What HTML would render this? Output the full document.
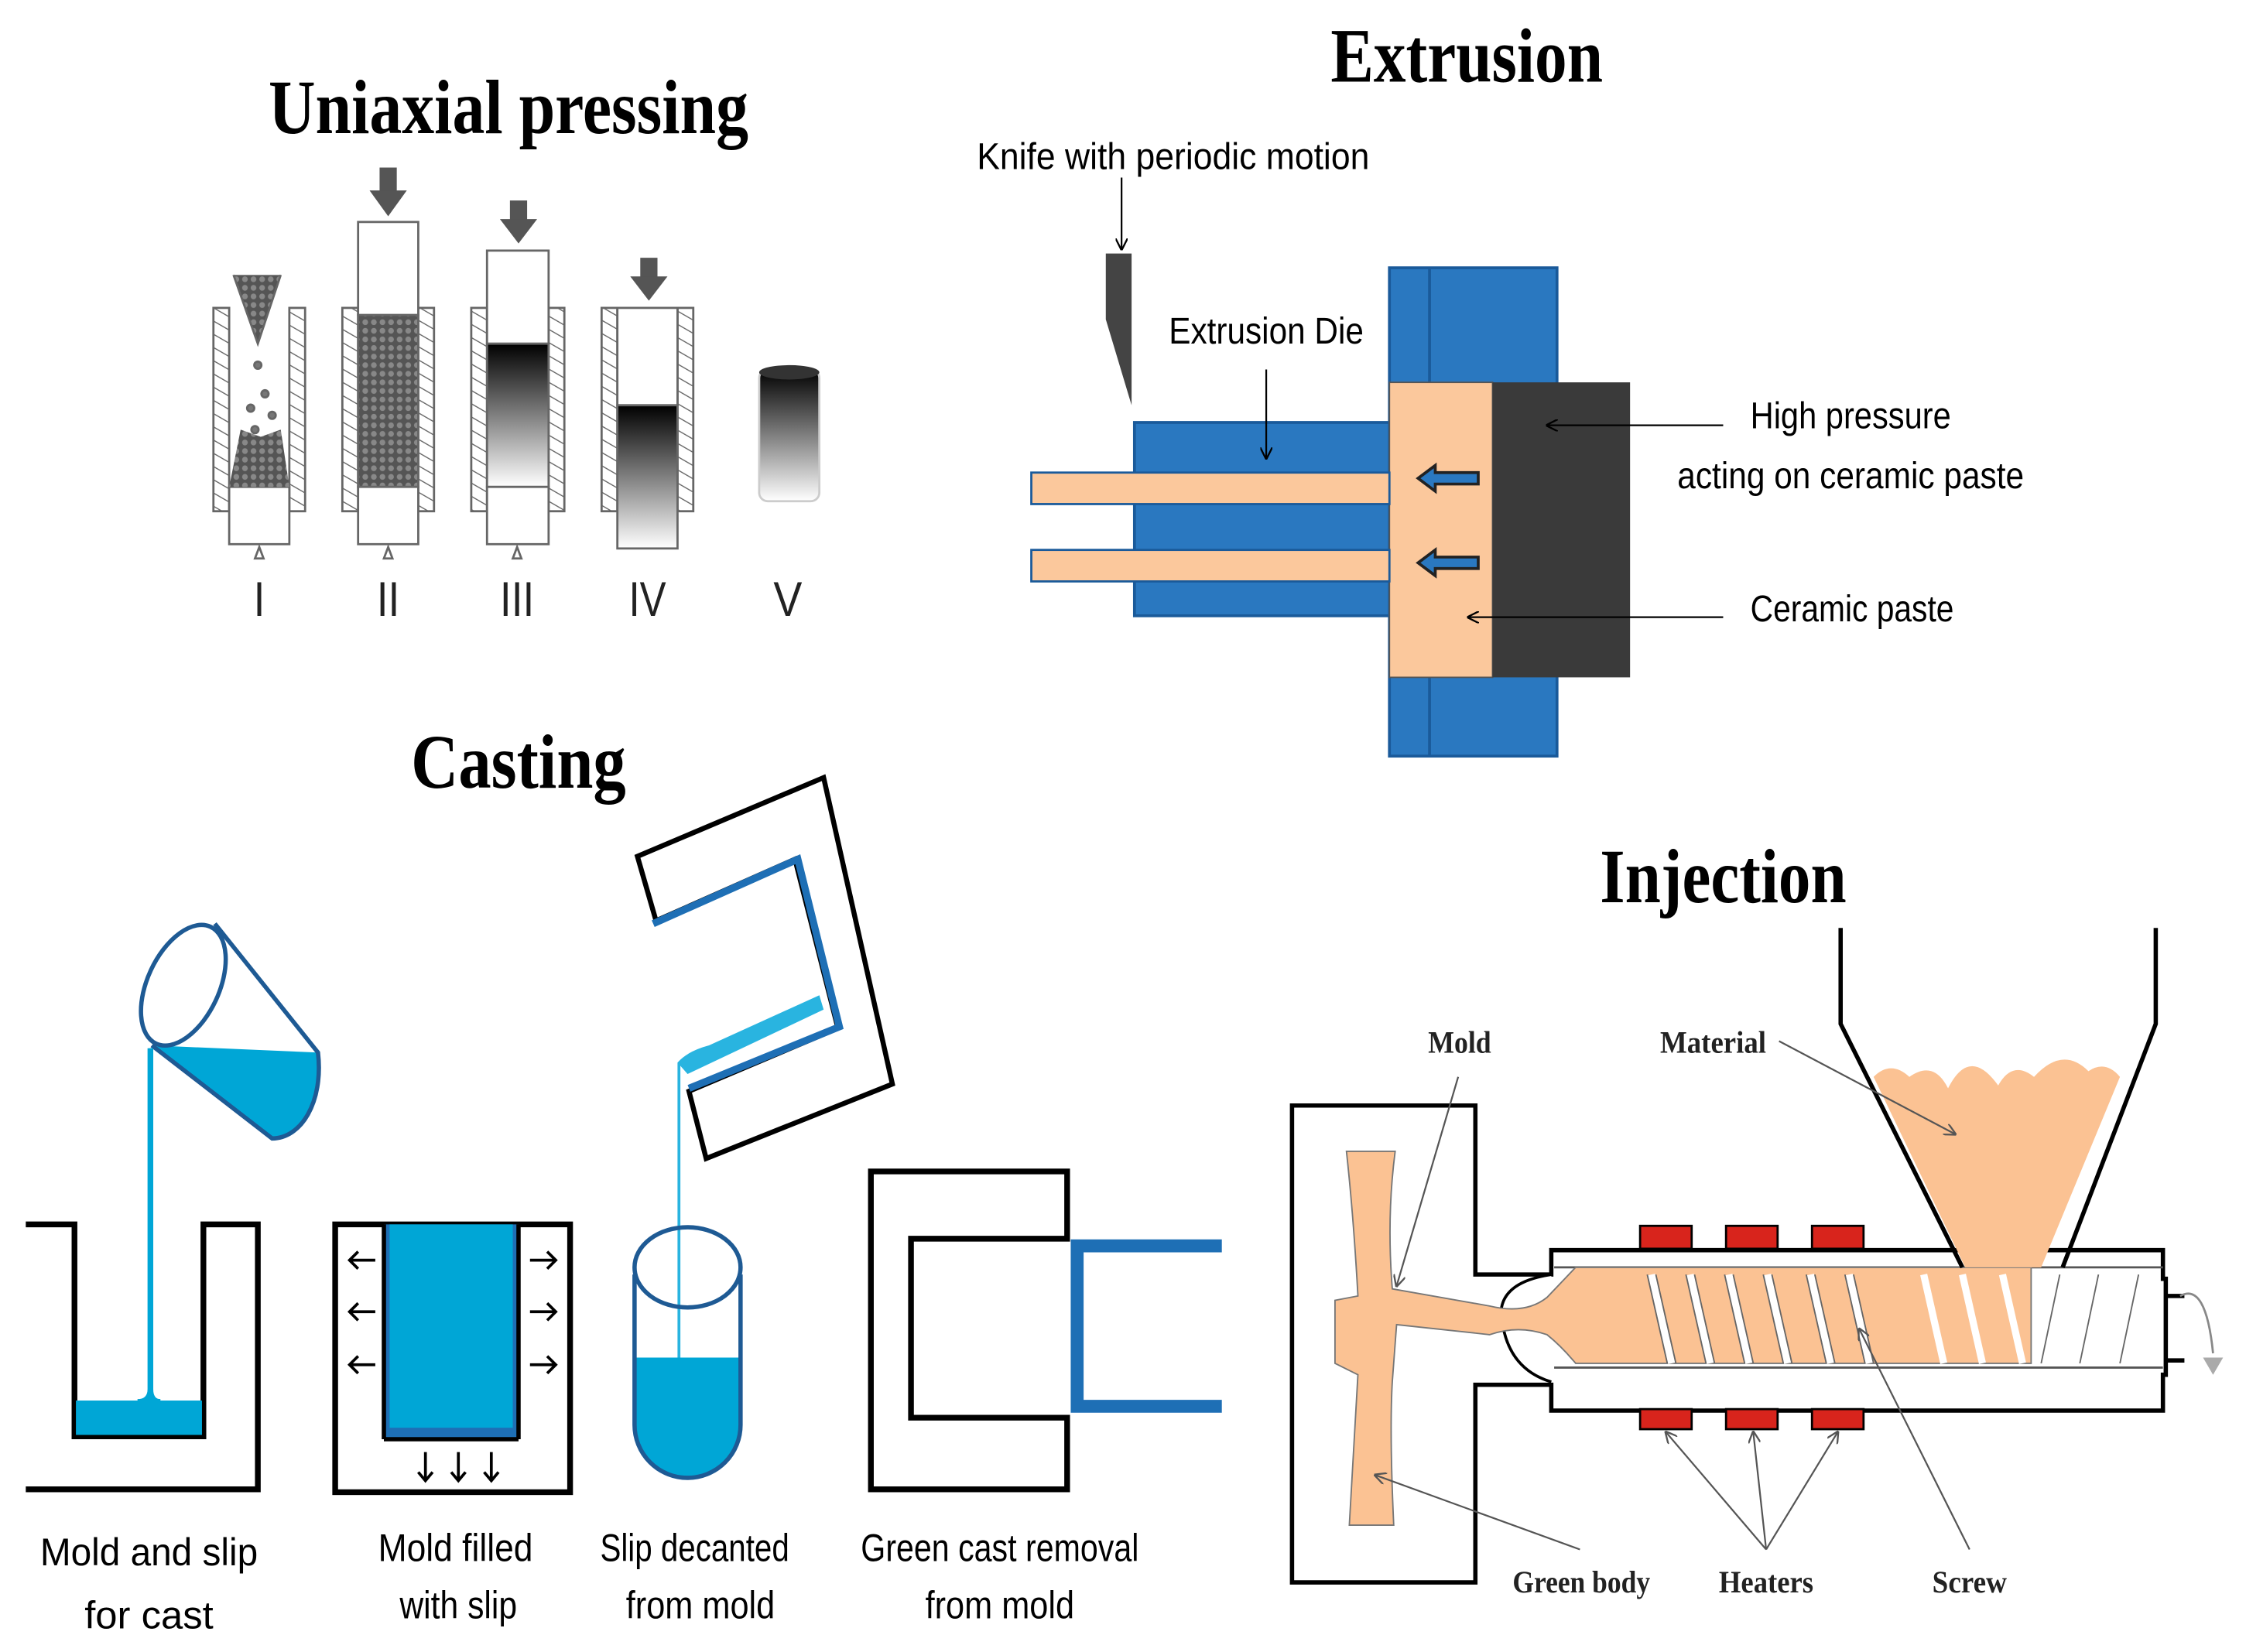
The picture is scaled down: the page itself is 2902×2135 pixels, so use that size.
<!DOCTYPE html>
<html><head><meta charset="utf-8"><style>html,body{margin:0;padding:0;background:#fff}svg{display:block}</style></head>
<body>
<svg width="2902" height="2135" viewBox="0 0 1568 1153.6" preserveAspectRatio="none" xmlns="http://www.w3.org/2000/svg">
<defs>
<pattern id="hatch" width="8" height="8" patternUnits="userSpaceOnUse" patternTransform="rotate(-60)"><rect width="8" height="8" fill="#fff"/><line x1="0" y1="0" x2="0" y2="8" stroke="#666" stroke-width="1.5"/></pattern>
<pattern id="dots" width="6" height="6" patternUnits="userSpaceOnUse"><rect width="6" height="6" fill="#555"/><circle cx="3" cy="3" r="2" fill="#888"/></pattern>
<linearGradient id="g1" x1="0" y1="0" x2="0" y2="1"><stop offset="0" stop-color="#000"/><stop offset="1" stop-color="#fff"/></linearGradient>
<marker id="ar" viewBox="0 0 10 10" refX="9" refY="5" markerWidth="7" markerHeight="7" orient="auto"><path d="M0,0 L10,5 L0,10" fill="none" stroke="#000" stroke-width="1.5"/></marker>
<marker id="ag" viewBox="0 0 10 10" refX="9" refY="5" markerWidth="7" markerHeight="7" orient="auto"><path d="M0,0 L10,5 L0,10" fill="none" stroke="#555" stroke-width="1.5"/></marker>
</defs>

<!-- Titles -->
<g font-family="Liberation Serif, serif" font-weight="bold" fill="#000">
<text x="355" y="93" font-size="54" text-anchor="middle" textLength="335" lengthAdjust="spacingAndGlyphs">Uniaxial pressing</text>
<text x="1024" y="57" font-size="54" text-anchor="middle" textLength="190" lengthAdjust="spacingAndGlyphs">Extrusion</text>
<text x="362" y="550" font-size="54" text-anchor="middle" textLength="150" lengthAdjust="spacingAndGlyphs">Casting</text>
<text x="1203" y="630" font-size="54" text-anchor="middle" textLength="172" lengthAdjust="spacingAndGlyphs">Injection</text>
</g>

<!-- Uniaxial pressing -->
<g stroke="#666" stroke-width="1.5">
<!-- I -->
<rect x="149" y="215" width="11" height="142" fill="url(#hatch)"/><rect x="202" y="215" width="11" height="142" fill="url(#hatch)"/>
<rect x="160" y="340" width="42" height="40" fill="#fff"/>
<path d="M160,340 L202,340 L196,300 L182,305 L168,300 Z" fill="url(#dots)" stroke="none"/>
<path d="M163,192 L180,240 L196,192" fill="url(#dots)"/>
<circle cx="180" cy="255" r="2.5" fill="#777"/><circle cx="185" cy="275" r="2.5" fill="#777"/><circle cx="175" cy="285" r="2.5" fill="#777"/><circle cx="178" cy="300" r="2.5" fill="#777"/><circle cx="190" cy="290" r="2.5" fill="#777"/>
<path d="M181,382 l-3,8 h6 z" fill="#fff"/>
<!-- II -->
<rect x="239" y="215" width="11" height="142" fill="url(#hatch)"/><rect x="292" y="215" width="11" height="142" fill="url(#hatch)"/>
<rect x="250" y="155" width="42" height="65" fill="#fff"/>
<rect x="250" y="220" width="42" height="120" fill="url(#dots)"/>
<rect x="250" y="340" width="42" height="40" fill="#fff"/>
<path d="M271,382 l-3,8 h6 z" fill="#fff"/>
<!-- III -->
<rect x="329" y="215" width="11" height="142" fill="url(#hatch)"/><rect x="383" y="215" width="11" height="142" fill="url(#hatch)"/>
<rect x="340" y="175" width="43" height="65" fill="#fff"/>
<rect x="340" y="240" width="43" height="100" fill="url(#g1)"/>
<rect x="340" y="340" width="43" height="40" fill="#fff"/>
<path d="M361,382 l-3,8 h6 z" fill="#fff"/>
<!-- IV -->
<rect x="420" y="215" width="11" height="142" fill="url(#hatch)"/><rect x="473" y="215" width="11" height="142" fill="url(#hatch)"/>
<rect x="431" y="215" width="42" height="68" fill="#fff"/>
<rect x="431" y="283" width="42" height="100" fill="url(#g1)"/>
<!-- V -->
<rect x="530" y="258" width="42" height="92" rx="6" fill="url(#g1)" stroke="#ccc"/>
<ellipse cx="551" cy="260" rx="21" ry="5" fill="#333" stroke="none"/>
</g>
<g fill="#555">
<rect x="265" y="117" width="12" height="18"/><path d="M258,133 h26 l-13,18 z"/>
<rect x="356" y="140" width="12" height="15"/><path d="M349,153 h26 l-13,17 z"/>
<rect x="447" y="180" width="12" height="15"/><path d="M440,193 h26 l-13,17 z"/>
</g>
<g font-family="Liberation Sans, sans-serif" font-size="34" fill="#222" text-anchor="middle" font-weight="300">
<text x="181" y="430" textLength="8" lengthAdjust="spacingAndGlyphs">I</text>
<text x="271" y="430" textLength="16" lengthAdjust="spacingAndGlyphs">II</text>
<text x="361" y="430" textLength="24" lengthAdjust="spacingAndGlyphs">III</text>
<text x="452" y="430" textLength="26" lengthAdjust="spacingAndGlyphs">IV</text>
<text x="550" y="430" textLength="20" lengthAdjust="spacingAndGlyphs">V</text>
</g>

<!-- Extrusion -->
<rect x="970" y="187" width="117" height="341" fill="#2a78c0" stroke="#1a5a9a" stroke-width="2"/>
<line x1="998" y1="187" x2="998" y2="528" stroke="#1a5a9a" stroke-width="2"/>
<rect x="792" y="295" width="178" height="135" fill="#2a78c0" stroke="#1a5a9a" stroke-width="2"/>
<rect x="970" y="267" width="72" height="206" fill="#fbc89c" stroke="#555"/>
<rect x="1042" y="267" width="96" height="206" fill="#3a3a3a"/>
<rect x="720" y="330" width="250" height="22" fill="#fbc89c" stroke="#1a5a9a" stroke-width="1.5"/>
<rect x="720" y="384" width="250" height="22" fill="#fbc89c" stroke="#1a5a9a" stroke-width="1.5"/>
<path d="M990,334 l12,-9 v5 h30 v8 h-30 v5 z" fill="#2a78c0" stroke="#222" stroke-width="2"/>
<path d="M990,393 l12,-9 v5 h30 v8 h-30 v5 z" fill="#2a78c0" stroke="#222" stroke-width="2"/>
<path d="M772,177 h18 v106 l-18,-60 z" fill="#444"/>
<g stroke="#000" stroke-width="1.2" fill="none">
<line x1="783" y1="124" x2="783" y2="174" marker-end="url(#ar)"/>
<line x1="884" y1="258" x2="884" y2="320" marker-end="url(#ar)"/>
<line x1="1203" y1="297" x2="1080" y2="297" marker-end="url(#ar)"/>
<line x1="1203" y1="431" x2="1025" y2="431" marker-end="url(#ar)"/>
</g>
<g font-family="Liberation Sans, sans-serif" font-size="26" fill="#000">
<text x="682" y="118" textLength="274" lengthAdjust="spacingAndGlyphs">Knife with periodic motion</text>
<text x="816" y="240" textLength="136" lengthAdjust="spacingAndGlyphs">Extrusion Die</text>
<text x="1222" y="299" textLength="140" lengthAdjust="spacingAndGlyphs">High pressure</text>
<text x="1171" y="341" textLength="242" lengthAdjust="spacingAndGlyphs">acting on ceramic paste</text>
<text x="1222" y="434" textLength="142" lengthAdjust="spacingAndGlyphs">Ceramic paste</text>
</g>

<!-- Casting -->
<g stroke="#000" stroke-width="4" fill="none">
<path d="M18,855 H52 V1003 H142 V855 H180 V1040 H18"/>
<rect x="234" y="855" width="164" height="187" fill="#fff"/>
<path d="M608,818 H745 V865 H636 V990 H745 V1040 H608 Z"/>
</g>
<rect x="53" y="978" width="88" height="24" fill="#00a6d6"/>
<rect x="268" y="855" width="94" height="150" fill="#1e6fb5"/>
<rect x="272" y="855" width="86" height="142" fill="#00a6d6"/>
<line x1="268" y1="1005" x2="362" y2="1005" stroke="#000" stroke-width="3"/>
<line x1="268" y1="855" x2="268" y2="1005" stroke="#000" stroke-width="3"/>
<line x1="362" y1="855" x2="362" y2="1005" stroke="#000" stroke-width="3"/>
<g stroke="#000" stroke-width="2" fill="none">
<path d="M262,880 h-18 m6,-6 l-6,6 6,6"/><path d="M262,916 h-18 m6,-6 l-6,6 6,6"/><path d="M262,953 h-18 m6,-6 l-6,6 6,6"/>
<path d="M370,880 h18 m-6,-6 l6,6 -6,6"/><path d="M370,916 h18 m-6,-6 l6,6 -6,6"/><path d="M370,953 h18 m-6,-6 l6,6 -6,6"/>
<path d="M297,1014 v20 m-5,-6 l5,6 5,-6"/><path d="M320,1014 v20 m-5,-6 l5,6 5,-6"/><path d="M343,1014 v20 m-5,-6 l5,6 5,-6"/>
</g>
<!-- pouring cup -->
<path d="M106,730 L222,735 C226,770 210,795 190,795 Z" fill="#00a6d6"/>
<path d="M150,645 L222,735 C226,770 210,795 190,795 L106,730" fill="none" stroke="#1e5a94" stroke-width="3"/>
<ellipse cx="128" cy="688" rx="25" ry="45" transform="rotate(25 128 688)" fill="none" stroke="#1e5a94" stroke-width="3"/>
<path d="M104,732 V970 Q104,978 96,978 H112 Q106,978 106,970 V732" fill="#00a6d6" stroke="#00a6d6" stroke-width="2"/>
<!-- tilted mold -->
<path d="M445,598 L575,543 L623,757 L493,809 L481,762 L585,718 L555,600 L458,643 Z" fill="#fff" stroke="#000" stroke-width="3.5"/>
<path d="M456,645 L557,600 L586,717 L481,760" fill="none" stroke="#1e6fb5" stroke-width="5"/>
<path d="M473,742 Q480,734 495,730 L572,695 L575,705 L480,750 Z" fill="#29b4e0"/>
<line x1="474" y1="742" x2="474" y2="948" stroke="#29b4e0" stroke-width="2"/>
<!-- cup 3 -->
<path d="M443,948 H517 V995 A37,37 0 0 1 443,995 Z" fill="#00a6d6"/>
<path d="M443,890 V995 A37,37 0 0 0 517,995 V890" fill="none" stroke="#1e5a94" stroke-width="3"/>
<ellipse cx="480" cy="885" rx="37" ry="28" fill="none" stroke="#1e5a94" stroke-width="3"/>
<!-- green cast -->
<path d="M853,870 H752 V982 H853" fill="none" stroke="#1e6fb5" stroke-width="9"/>
<g font-family="Liberation Sans, sans-serif" font-size="27" fill="#000" text-anchor="middle">
<text x="104" y="1093" textLength="152" lengthAdjust="spacingAndGlyphs">Mold and slip</text>
<text x="104" y="1137" textLength="90" lengthAdjust="spacingAndGlyphs">for  cast</text>
<text x="318" y="1090" textLength="108" lengthAdjust="spacingAndGlyphs">Mold filled</text>
<text x="320" y="1130" textLength="82" lengthAdjust="spacingAndGlyphs">with slip</text>
<text x="485" y="1090" textLength="132" lengthAdjust="spacingAndGlyphs">Slip decanted</text>
<text x="489" y="1130" textLength="104" lengthAdjust="spacingAndGlyphs">from mold</text>
<text x="698" y="1090" textLength="194" lengthAdjust="spacingAndGlyphs">Green cast removal</text>
<text x="698" y="1130" textLength="104" lengthAdjust="spacingAndGlyphs">from mold</text>
</g>

<!-- Injection -->
<path d="M902,772 H1030 V890 H1083 V873 H1510 V893 H1512 V960 H1510 V985 H1083 V967 H1030 V1105 H902 Z" fill="#fff" stroke="#000" stroke-width="3"/>
<path d="M1083,890 Q1050,895 1048,915 Q1050,955 1083,965" fill="#fff" stroke="#000" stroke-width="2"/>
<line x1="1085" y1="885" x2="1510" y2="885" stroke="#555" stroke-width="1.5"/>
<line x1="1085" y1="955" x2="1510" y2="955" stroke="#555" stroke-width="1.5"/>
<!-- peach material -->
<path d="M1100,885 H1418 V952 H1100 Q1090,940 1080,932 Q1060,925 1040,932 L975,925 L972,965 Q970,1000 973,1065 H942 Q945,1010 948,960 L932,952 V908 L948,905 Q945,850 940,804 H974 Q968,850 972,900 L1040,912 Q1065,918 1080,906 Z" fill="#fbc293" stroke="#777" stroke-width="1"/>
<path d="M1308,752 Q1320,740 1333,752 Q1350,740 1360,760 Q1375,730 1395,758 Q1405,740 1420,752 Q1440,730 1458,748 Q1470,740 1480,752 L1425,885 H1372 Z" fill="#fbc293"/>
<g stroke="#000" stroke-width="3" fill="none">
<path d="M1285,648 V715 L1370,885"/><path d="M1505,648 V715 L1440,885"/>
</g>
<!-- screw flights -->
<g stroke="#fff" stroke-width="5" fill="none">
<path d="M1153,890 L1167,952 M1180,890 L1194,952 M1207,890 L1221,952 M1234,890 L1248,952 M1264,890 L1278,952 M1291,890 L1305,952 M1343,890 L1357,952 M1370,890 L1384,952 M1398,890 L1412,952 M1424,890 L1438,952 M1452,890 L1466,952 M1479,890 L1493,952"/>
</g>
<g stroke="#666" stroke-width="1" fill="none">
<path d="M1150,890 L1164,952 M1156,890 L1170,952 M1177,890 L1191,952 M1183,890 L1197,952 M1204,890 L1218,952 M1210,890 L1224,952 M1231,890 L1245,952 M1237,890 L1251,952 M1261,890 L1275,952 M1267,890 L1281,952 M1288,890 L1302,952 M1294,890 L1308,952"/>
<path d="M1425,952 L1438,890 M1452,952 L1465,890 M1480,952 L1493,890"/>
</g>
<path d="M1512,905 H1525 M1512,950 H1525" stroke="#000" stroke-width="3"/>
<path d="M1522,905 Q1540,895 1545,945" stroke="#888" stroke-width="1.5" fill="none"/>
<path d="M1538,948 h14 l-7,12 z" fill="#aaa"/>
<!-- heaters -->
<g fill="#d8241c" stroke="#000" stroke-width="1.5">
<rect x="1145" y="856" width="36" height="16"/><rect x="1205" y="856" width="36" height="16"/><rect x="1265" y="856" width="36" height="16"/>
<rect x="1145" y="984" width="36" height="14"/><rect x="1205" y="984" width="36" height="14"/><rect x="1265" y="984" width="36" height="14"/>
</g>
<g stroke="#555" stroke-width="1.2" fill="none">
<line x1="1018" y1="752" x2="975" y2="898" marker-end="url(#ag)"/>
<line x1="1242" y1="727" x2="1365" y2="792" marker-end="url(#ag)"/>
<line x1="1103" y1="1082" x2="960" y2="1030" marker-end="url(#ag)"/>
<line x1="1233" y1="1082" x2="1163" y2="1000" marker-end="url(#ag)"/>
<line x1="1233" y1="1082" x2="1224" y2="1000" marker-end="url(#ag)"/>
<line x1="1233" y1="1082" x2="1283" y2="1000" marker-end="url(#ag)"/>
<line x1="1375" y1="1082" x2="1298" y2="928" marker-end="url(#ag)"/>
</g>
<g font-family="Liberation Serif, serif" font-weight="bold" font-size="22" fill="#222" text-anchor="middle">
<text x="1019" y="735" textLength="44" lengthAdjust="spacingAndGlyphs">Mold</text>
<text x="1196" y="735" textLength="74" lengthAdjust="spacingAndGlyphs">Material</text>
<text x="1104" y="1112" textLength="96" lengthAdjust="spacingAndGlyphs">Green body</text>
<text x="1233" y="1112" textLength="66" lengthAdjust="spacingAndGlyphs">Heaters</text>
<text x="1375" y="1112" textLength="52" lengthAdjust="spacingAndGlyphs">Screw</text>
</g>
</svg>
</body></html>
